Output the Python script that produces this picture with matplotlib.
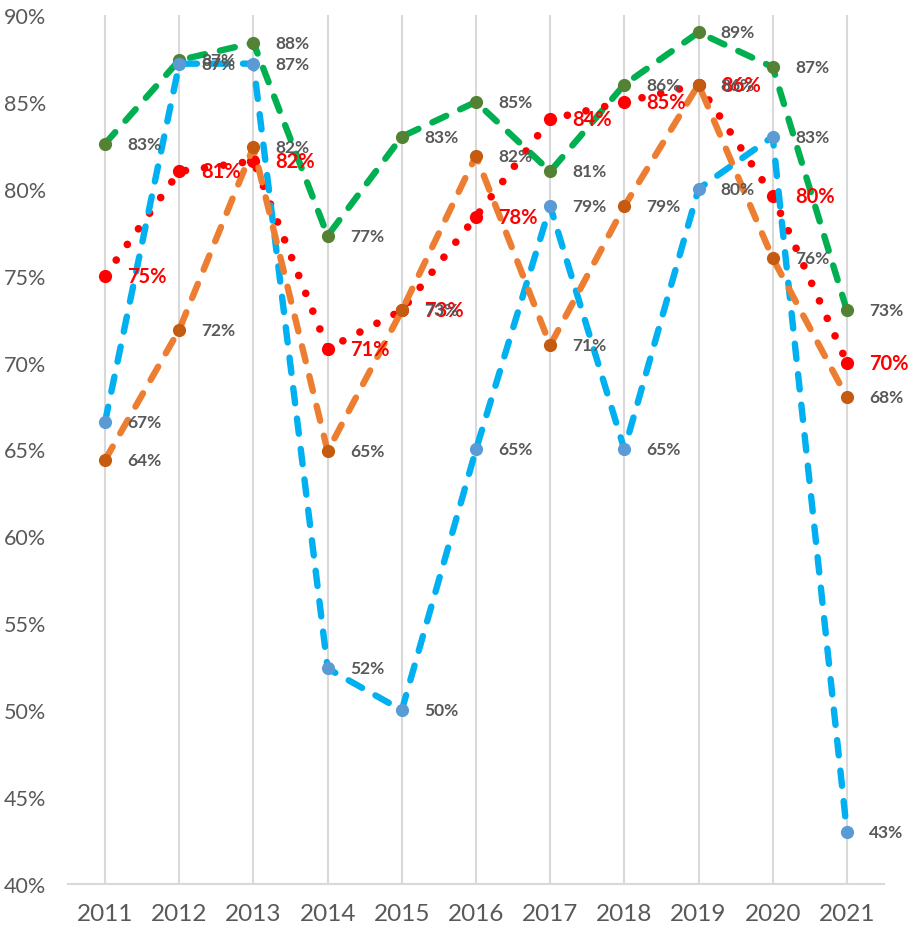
import matplotlib
matplotlib.use("Agg")
import matplotlib.pyplot as plt

plt.rcParams['font.family'] = ['Lato', 'DejaVu Sans']

years = ['2011', '2012', '2013', '2014', '2015', '2016', '2017', '2018', '2019', '2020', '2021']
green = [82.6, 87.4, 88.4, 77.3, 83.0, 85.0, 81.0, 86.0, 89.0, 87.0, 73.0]
red = [75.0, 81.0, 81.6, 70.8, 73.0, 78.4, 84.0, 85.0, 86.0, 79.6, 70.0]
blue = [66.6, 87.2, 87.2, 52.4, 50.0, 65.0, 79.0, 65.0, 80.0, 83.0, 43.0]
orange = [64.4, 71.9, 82.4, 64.9, 73.0, 81.9, 71.0, 79.0, 86.0, 76.0, 68.0]
yticks = [40, 45, 50, 55, 60, 65, 70, 75, 80, 85, 90]

fig = plt.figure(figsize=(9.08, 9.28), dpi=100)
ax = fig.add_axes([68/908, 43/928, 816/908, 869/928])
x = list(range(len(years)))

for xi in x:
    ax.axvline(xi, color='#D9D9D9', lw=1.5, zorder=0)

series = [
    (green, '#00B050', '#548235', (0, (2.4, 2.4)), 4.6, '#595959', 12.5),
    (red, '#FF0000', '#FF0000', (0, (0.01, 2.5)), 5.5, '#FF0000', 14.5),
    (blue, '#00B0F0', '#5B9BD5', (0, (2.4, 2.4)), 4.6, '#595959', 12.5),
    (orange, '#ED7D31', '#C55A11', (0, (2.4, 2.4)), 4.6, '#595959', 12.5),
]
z = 2
for vals, lc, mc, ls, lw, tc, fs in series:
    ax.plot(x, vals, color=lc, lw=lw, linestyle=ls, dash_capstyle='round',
            solid_capstyle='round', zorder=z)
    ax.plot(x, vals, linestyle='none', marker='o', ms=9.5, color=mc,
            markeredgewidth=0, zorder=z + 0.5)
    for xi, v in zip(x, vals):
        ax.annotate(f"{round(v):d}%", (xi, v), xytext=(16, 0), textcoords='offset points',
                    ha='left', va='center', color=tc, fontsize=fs, fontweight='bold',
                    annotation_clip=False, zorder=10)
    z += 1

ax.set_xlim(-0.5, 10.5)
ax.set_ylim(40, 90)
ax.set_xticks(x)
ax.set_xticklabels(years)
ax.set_yticks(yticks)
ax.set_yticklabels([f"{t}%" for t in yticks])
ax.tick_params(axis='x', length=0, labelsize=17.5, labelcolor='#595959', pad=14)
ax.tick_params(axis='y', length=0, labelsize=15.5, labelcolor='#595959', pad=16)
for s in ['top', 'right', 'left']:
    ax.spines[s].set_visible(False)
ax.spines['bottom'].set_color('#D9D9D9')
ax.spines['bottom'].set_linewidth(1.5)

fig.savefig('out.png', dpi=100)
